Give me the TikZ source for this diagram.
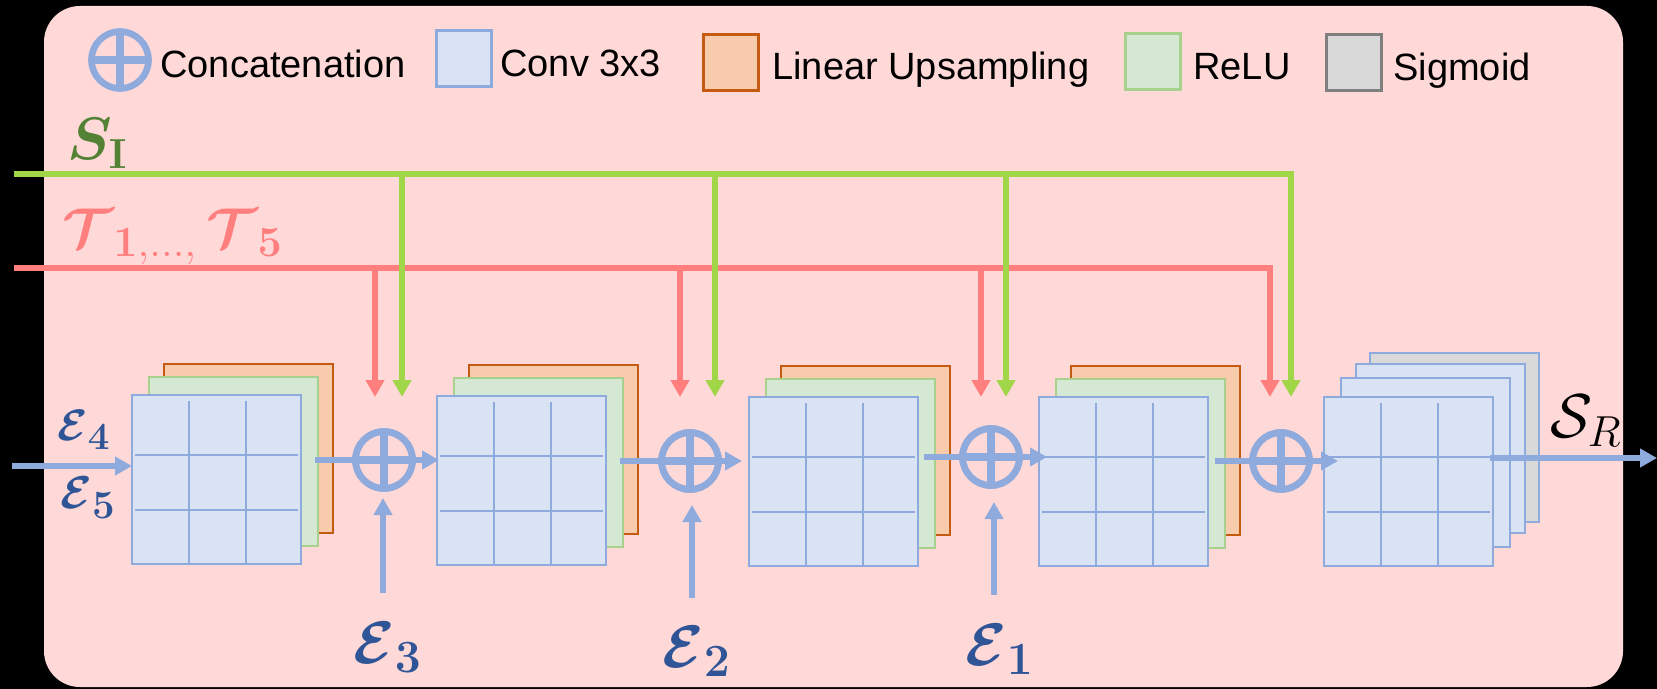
\documentclass[tikz,border=0pt]{standalone}
\usepackage{fix-cm}
\usepackage{amsmath,bm}
\usepackage{graphicx}
\usepackage[no-math]{fontspec}
\setmainfont{Liberation Sans}
\usetikzlibrary{arrows.meta}

\definecolor{bgpink}{RGB}{255,216,216}
\definecolor{convfill}{RGB}{218,227,243}
\definecolor{convdraw}{RGB}{143,170,220}
\definecolor{upfill}{RGB}{248,203,173}
\definecolor{updraw}{RGB}{197,90,17}
\definecolor{relufill}{RGB}{213,232,212}
\definecolor{reludraw}{RGB}{169,209,142}
\definecolor{sigfill}{RGB}{217,217,217}
\definecolor{sigdraw}{RGB}{127,127,127}
\definecolor{sline}{RGB}{160,214,72}
\definecolor{tline}{RGB}{255,127,127}
\definecolor{sgreen}{RGB}{84,130,53}
\definecolor{eblue}{RGB}{47,85,151}

% bold digit subscript, a little larger than the usual script size
\newcommand\bigsub[2][1.2]{\scalebox{#1}{$\scriptstyle\mathbf{#2}$}}

\tikzset{
  sheet/.style={rectangle, inner sep=0pt, outer sep=0pt, minimum width=84.5pt,
    minimum height=84.5pt, line width=1pt, anchor=north west},
  gridline/.style={draw=convdraw, line width=1.2pt},
  concat/.style={circle, draw=convdraw, line width=3.3pt, minimum size=28.5pt,
    inner sep=0pt, outer sep=0pt,
    path picture={\draw[convdraw, line width=3.6pt]
      (path picture bounding box.north) -- (path picture bounding box.south)
      (path picture bounding box.west) -- (path picture bounding box.east);}},
  legbox/.style={rectangle, inner sep=0pt, minimum width=27.5pt, minimum height=28pt,
    line width=1.5pt, anchor=north west},
  legtext/.style={anchor=base west, inner sep=0pt, font=\fontsize{19}{22}\selectfont},
  tipshape/.style={-{Triangle[length=8.5pt,width=9pt]}},
  flow/.style={draw=convdraw, line width=3pt, tipshape},
  einput/.style={draw=convdraw, line width=2.6pt, tipshape},
  sarrow/.style={draw=sline, line width=2.6pt, line join=miter, tipshape},
  tarrow/.style={draw=tline, line width=2.8pt, line join=miter, tipshape},
  mathlbl/.style={anchor=base west, inner sep=0pt},
}

% conv block: upsampling sheet, ReLU sheet and the 3x3 conv sheet in front
\newcommand\convstack[3]{%
  \node[sheet, fill=upfill, draw=updraw] at (#2+32,#3-31) {};
  \node[sheet, fill=relufill, draw=reludraw] at (#2+17,#3-18) {};
  \node[sheet, fill=convfill, draw=convdraw] (#1) at (#2,#3) {};
  \draw[gridline] (#2+57,#3+6) -- (#2+57,#3+170) (#2+114,#3+6) -- (#2+114,#3+170)
     (#2+3,#3+60) -- (#2+166,#3+60) (#2+3,#3+115) -- (#2+166,#3+115);
}
% final block: three conv sheets and a sigmoid sheet behind
\newcommand\sigstack[3]{%
  \node[sheet, fill=sigfill, draw=convdraw] at (#2+46,#3-44) {};
  \node[sheet, fill=convfill, draw=convdraw] at (#2+32,#3-33) {};
  \node[sheet, fill=convfill, draw=convdraw] at (#2+17,#3-19) {};
  \node[sheet, fill=convfill, draw=convdraw] (#1) at (#2,#3) {};
  \draw[gridline] (#2+57,#3+6) -- (#2+57,#3+170) (#2+114,#3+6) -- (#2+114,#3+170)
     (#2+3,#3+60) -- (#2+166,#3+60) (#2+3,#3+115) -- (#2+166,#3+115);
}

\begin{document}
\begin{tikzpicture}[x=0.5pt,y=-0.5pt]
\useasboundingbox (0,0) rectangle (1657,689);
\fill[black] (0,0) rectangle (1657,689);
\fill[bgpink, rounded corners=18pt] (44,6) rectangle (1623,687);

% legend
\node[concat] (lgcat) at (120,60) {};
\node[legtext] (lgcattxt) at (160,78) {Concatenation};
\node[legbox, fill=convfill, draw=convdraw] (lgconv) at (435,29) {};
\node[legtext] (lgconvtxt) at (500,77) {Conv 3x3};
\node[legbox, fill=upfill, draw=updraw] (lgup) at (702,33) {};
\node[legtext] (lguptxt) at (772,80) {Linear Upsampling};
\node[legbox, fill=relufill, draw=reludraw] (lgrelu) at (1124,32) {};
\node[legtext] (lgrelutxt) at (1193,80) {ReLU};
\node[legbox, fill=sigfill, draw=sigdraw] (lgsig) at (1325,33) {};
\node[legtext] (lgsigtxt) at (1393,81) {Sigmoid};

% blocks
\convstack{b1}{132}{395}
\convstack{b2}{437}{396}
\convstack{b3}{749}{397}
\convstack{b4}{1039}{397}
\sigstack{b5}{1324}{397}

% concatenation nodes
\node[concat] (c1) at (384,460) {};
\node[concat] (c2) at (690,461) {};
\node[concat] (c3) at (991,457) {};
\node[concat] (c4) at (1281,461) {};

% guidance buses
\coordinate (sstart) at (14,174);
\coordinate (tstart) at (14,268);
\coordinate (t1) at (375,397);
\coordinate (t2) at (680,397);
\coordinate (t3) at (981,397);
\coordinate (t4) at (1270,397);
\coordinate (g1) at (402,397);
\coordinate (g2) at (715,397);
\coordinate (g3) at (1006,397);
\coordinate (g4) at (1291,397);

\draw[tarrow] (tstart) -- (t4 |- tstart) -- (t4);
\draw[tarrow] (t1 |- tstart) -- (t1);
\draw[tarrow] (t2 |- tstart) -- (t2);
\draw[tarrow] (t3 |- tstart) -- (t3);
\draw[sarrow] (sstart) -- (g4 |- sstart) -- (g4);
\draw[sarrow] (g1 |- sstart) -- (g1);
\draw[sarrow] (g2 |- sstart) -- (g2);
\draw[sarrow] (g3 |- sstart) -- (g3);

\node[mathlbl, text=sgreen, font=\fontsize{30}{35}\selectfont] (slbl) at (67,160)
  {$\bm{S}_{\mathbf{I}}$};
\node[mathlbl, text=tline, font=\fontsize{28}{33}\selectfont] (tlbl) at (62,248)
  {$\bm{\mathcal{T}}_{\bigsub[1.1]{1,\ldots,}}\,\bm{\mathcal{T}}_{\bigsub[1.1]{5}}$};

% main flow
\coordinate (inp) at (12,466);
\draw[einput] (inp) -- (inp -| b1.west);
\draw[flow] ([xshift=7pt]b1.east |- c1) -- ([xshift=1pt]b2.west |- c1);
\draw[flow] ([xshift=7pt]b2.east |- c2) -- ([xshift=-3.5pt]b3.west |- c2);
\draw[flow] ([xshift=3pt]b3.east |- c3) -- ([xshift=4pt]b4.west |- c3);
\draw[flow] ([xshift=3.5pt]b4.east |- c4) -- ([xshift=7pt]b5.west |- c4);
\coordinate (out) at (1657,458);
\draw[flow] ([xshift=-1.5pt]b5.east |- out) -- (out);
\node[concat] at (c1) {};
\node[concat] at (c2) {};
\node[concat] at (c3) {};
\node[concat] at (c4) {};

% encoder skip inputs
\coordinate (e3s) at (383,593);
\coordinate (e2s) at (692,598);
\coordinate (e1s) at (994,595);
\draw[einput] (e3s) -- (e3s |- 0,498);
\draw[einput] (e2s) -- (e2s |- 0,505);
\draw[einput] (e1s) -- (e1s |- 0,502);

\node[mathlbl, text=eblue, font=\fontsize{22}{26}\selectfont] (e4lbl) at (57,440)
  {$\bm{\mathcal{E}}_{\bigsub[1.25]{4}}$};
\node[mathlbl, text=eblue, font=\fontsize{23}{27}\selectfont] (e5lbl) at (60,508)
  {$\bm{\mathcal{E}}_{\bigsub[1.25]{5}}$};
\node[mathlbl, text=eblue, font=\fontsize{30}{36}\selectfont] (e3lbl) at (353,663)
  {$\bm{\mathcal{E}}_{\bigsub[1.1]{3}}$};
\node[mathlbl, text=eblue, font=\fontsize{30}{36}\selectfont] (e2lbl) at (662,667)
  {$\bm{\mathcal{E}}_{\bigsub[1.1]{2}}$};
\node[mathlbl, text=eblue, font=\fontsize{30}{36}\selectfont] (e1lbl) at (965,665)
  {$\bm{\mathcal{E}}_{\bigsub[1.1]{1}}$};

\node[mathlbl, text=black, font=\fontsize{31}{37}\selectfont] (srlbl) at (1550,437)
  {$\mathcal{S}_R$};
\end{tikzpicture}
\end{document}
